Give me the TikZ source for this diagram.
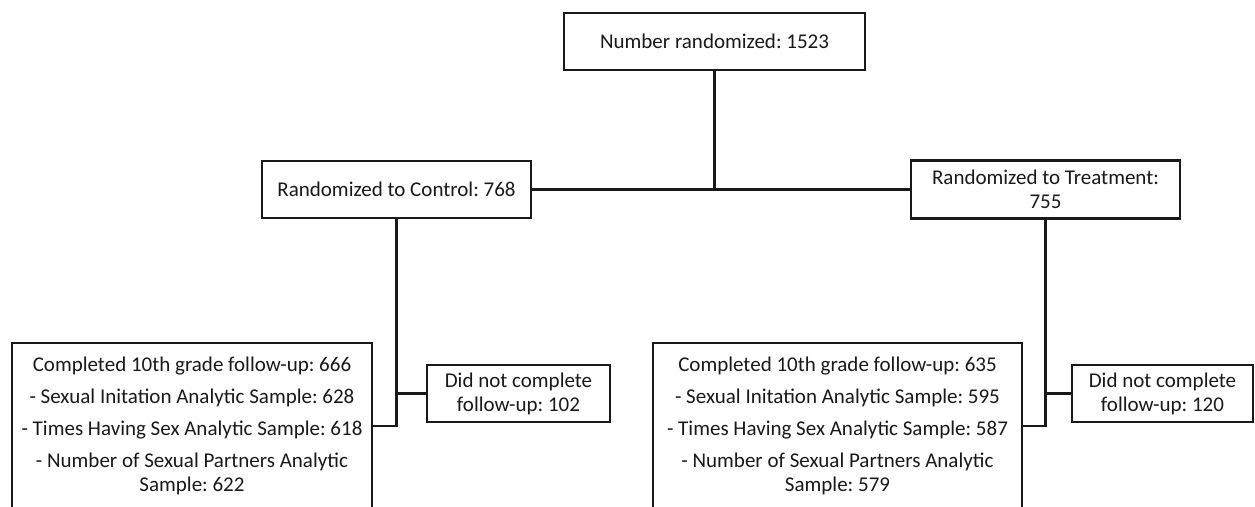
\documentclass[tikz,border=0pt]{standalone}
\usepackage{fontspec}
\setmainfont{Carlito}
\frenchspacing
\begin{document}
\begin{tikzpicture}[x=1pt,y=-1pt,font=\fontsize{21}{24}\selectfont,
  box/.style={draw=black!90,line width=2.2pt,inner sep=0pt,align=center,text=black!90},
  link/.style={draw=black!90,line width=2.2pt}]

\useasboundingbox (0,0) rectangle (1255,506);
\clip (0,0) rectangle (1255,506);

\node[box,minimum width=301,minimum height=57] (rand) at (714.5,41.5) {Number randomized: 1523};

\node[box,minimum width=269,minimum height=57] (ctrl) at (396.5,189.5) {Randomized to Control: 768};
\node[box,minimum width=269,minimum height=58] (treat) at (1045.5,189.5) {Randomized to Treatment:\\755};

% follow-up boxes (cut at the bottom)
\node[box,minimum width=360,minimum height=166] (ctrlfu) at (192,426)
  {Completed 10th grade follow-up: 666\\[8pt]
   - Sexual Initation Analytic Sample: 628\\[8pt]
   - Times Having Sex Analytic Sample: 618\\[8pt]
   - Number of Sexual Partners Analytic\\Sample: 622};
\node[box,minimum width=369,minimum height=166] (treatfu) at (837.5,426)
  {Completed 10th grade follow-up: 635\\[8pt]
   - Sexual Initation Analytic Sample: 595\\[8pt]
   - Times Having Sex Analytic Sample: 587\\[8pt]
   - Number of Sexual Partners Analytic\\Sample: 579};

\node[box,minimum width=183,minimum height=57] (ctrlno) at (518.5,393.5) {Did not complete\\follow-up: 102};
\node[box,minimum width=181,minimum height=57] (treatno) at (1162.5,393.5) {Did not complete\\follow-up: 120};

\draw[link] (rand.south) -- (rand.south |- ctrl.east);
\draw[link] (ctrl.east) -- (treat.west);

\draw[link] (ctrl.south) |- (ctrlfu.east);
\draw[link] (ctrl.south |- ctrlno.west) -- (ctrlno.west);
\draw[link] (treat.south) |- (treatfu.east);
\draw[link] (treat.south |- treatno.west) -- (treatno.west);

\end{tikzpicture}
\end{document}
